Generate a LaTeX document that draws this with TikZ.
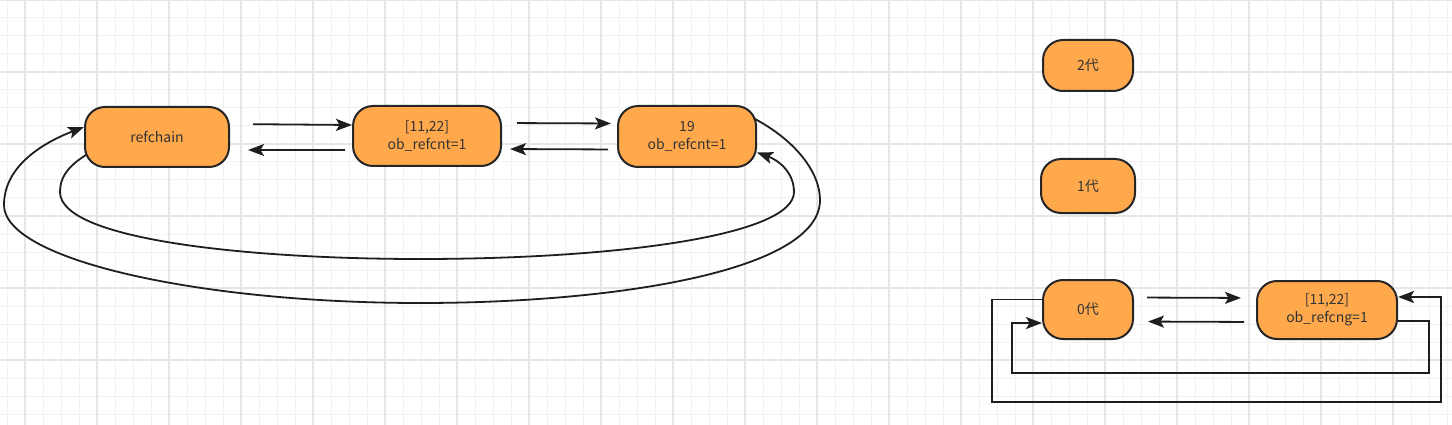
\documentclass[tikz,border=0pt]{standalone}
\usepackage{fontspec}
\setmainfont{Noto Sans CJK SC}
\usetikzlibrary{arrows.meta}
\definecolor{nodefill}{HTML}{FFA84C}
\definecolor{nodeline}{HTML}{262626}
\definecolor{txt}{HTML}{333333}
\definecolor{gridminor}{HTML}{F2F2F2}
\definecolor{gridmajor}{HTML}{E6E6E6}
\definecolor{lnk}{HTML}{1E1E1E}
\tikzset{
  box/.style={draw=nodeline, line width=2pt, fill=nodefill, rounded corners=20pt,
    text=txt, font=\fontsize{14pt}{18pt}\selectfont, align=center, inner sep=0pt},
  arr/.style={draw=lnk, line width=1.8pt, -{Stealth[length=16pt,width=12pt,inset=3.5pt]}},
}
\begin{document}
\begin{tikzpicture}[x=1pt,y=-1pt]
\useasboundingbox (0,0) rectangle (1452,425);
\fill[white] (0,0) rectangle (1452,425);
% grid
\foreach \x in {7,25,...,1451} \draw[gridminor, line width=1pt] (\x,0) -- (\x,425);
\foreach \y in {0,18,...,424} \draw[gridminor, line width=1pt] (0,\y) -- (1452,\y);
\foreach \x in {25,97,...,1451} \draw[gridmajor, line width=1.2pt] (\x,0) -- (\x,425);
\foreach \y in {0,72,...,424} \draw[gridmajor, line width=1.2pt] (0,\y) -- (1452,\y);

% left nodes
\node[box, minimum width=144pt, minimum height=60pt] (rc) at (157,137) {refchain};
\node[box, minimum width=148pt, minimum height=60pt] (l1) at (427,136) {[11,22]\\ob\_refcnt=1};
\node[box, minimum width=138pt, minimum height=61pt] (n19) at (687,136.5) {19\\ob\_refcnt=1};

% right nodes
\node[box, minimum width=90pt, minimum height=51pt] (g2) at (1088,65.5) {2代};
\node[box, minimum width=94pt, minimum height=54pt] (g1) at (1088,186) {1代};
\node[box, minimum width=90pt, minimum height=59pt] (g0) at (1088,309.5) {0代};
\node[box, minimum width=140pt, minimum height=58pt] (r1) at (1327,310) {[11,22]\\ob\_refcng=1};

% left straight arrows
\draw[arr, shorten <=23pt] ([yshift=13pt]rc.east) -- ([yshift=11pt]l1.west);
\draw[arr, shorten <=7pt, shorten >=18pt] ([yshift=-14pt]l1.west) -- ([yshift=-13pt]rc.east);
\draw[arr, shorten <=15pt, shorten >=6pt] ([yshift=13pt]l1.east) -- ([yshift=13pt]n19.west);
\draw[arr, shorten <=9pt, shorten >=8pt] ([yshift=-13pt]n19.west) -- ([yshift=-13pt]l1.east);

% outer curve: 19 -> refchain
\draw[arr] ([shift={(-3pt,18pt)}]n19.east)
  .. controls (795,140) and (820,172) .. (820,200)
  .. controls (820,270) and (620,303) .. (420,303)
  .. controls (200,303) and (4,260) .. (4,205)
  .. controls (4,165) and (45,142) .. ([yshift=10pt]rc.west);

% inner curve: refchain -> 19
\draw[arr] ([shift={(2pt,-18pt)}]rc.west)
  .. controls (65,168) and (60,180) .. (60,192)
  .. controls (60,240) and (250,259) .. (420,259)
  .. controls (620,259) and (794,235) .. (794,192)
  .. controls (794,172) and (778,160) .. ([yshift=-16pt]n19.east);

% right straight arrows
\draw[arr, shorten <=13pt, shorten >=15pt] ([yshift=12pt]g0.east) -- ([yshift=12pt]r1.west);
\draw[arr, shorten <=12pt, shorten >=14pt] ([yshift=-12pt]r1.west) -- ([yshift=-12pt]g0.east);

% right orthogonal loops
\draw[arr] ([yshift=10pt]g0.west) -| (992,402) -| (1441,297) -- ([yshift=13pt]r1.east);
\draw[arr] ([yshift=-11pt]r1.east) -| (1429,373) -| (1012,323) -- ([yshift=-13.5pt]g0.west);
\end{tikzpicture}
\end{document}
